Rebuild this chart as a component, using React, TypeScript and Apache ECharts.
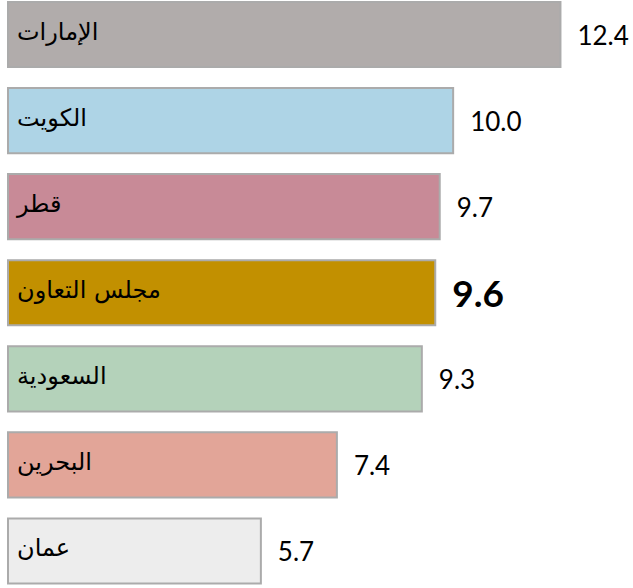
import React, { useEffect, useRef } from "react";
import * as echarts from "echarts";

const categories = ["الإمارات", "الكويت", "قطر", "مجلس التعاون", "السعودية", "البحرين", "عمان"];
const values = [12.4, 10.0, 9.7, 9.6, 9.3, 7.4, 5.7];
const colors = ["#B1ACAB", "#AED4E6", "#C88A97", "#C29000", "#B4D2BA", "#E2A598", "#EDEDED"];
const highlightIndex = 3;

export default function App() {
  const ref = useRef<HTMLDivElement>(null);
  useEffect(() => {
    if (!ref.current) return;
    const chart = echarts.init(ref.current, null, { renderer: "svg" });
    const barData = values.map((v, i) => ({
      value: v,
      itemStyle: { color: colors[i], borderColor: "#ABABAB", borderWidth: 2 },
      label:
        i === highlightIndex
          ? { fontSize: 37, fontWeight: "bold", distance: 16 }
          : undefined,
    }));
    chart.setOption({
      animation: false,
      grid: { left: 7, width: 626, top: 0.5, height: 602.5 },
      xAxis: { type: "value", min: 0, max: 14, show: false },
      yAxis: {
        type: "category",
        data: categories,
        inverse: true,
        show: false,
      },
      series: [
        {
          type: "bar",
          data: barData,
          barCategoryGap: "22%",
          label: {
            show: true,
            position: "right",
            distance: 16,
            fontSize: 26,
            fontFamily: "Lato, 'Open Sans', sans-serif",
            color: "#000",
            formatter: (p: any) => Number(p.value).toFixed(1),
          },
        },
        {
          type: "bar",
          data: values,
          barGap: "-100%",
          barCategoryGap: "22%",
          itemStyle: { color: "transparent" },
          silent: true,
          z: 3,
          label: {
            show: true,
            position: "insideLeft",
            distance: 10,
            offset: [0, -3],
            fontSize: 24,
            fontFamily: "'DejaVu Sans', sans-serif",
            color: "#000",
            formatter: (p: any) => categories[p.dataIndex],
          },
        },
      ],
    });
    return () => chart.dispose();
  }, []);
  return (
    <div style={{ position: "fixed", left: 0, top: 0, width: 633, height: 588, overflow: "hidden", background: "#fff" }}>
      <div
        ref={ref}
        style={{ position: "absolute", left: 0, top: -9, width: 633, height: 606 }}
      />
    </div>
  );
}
